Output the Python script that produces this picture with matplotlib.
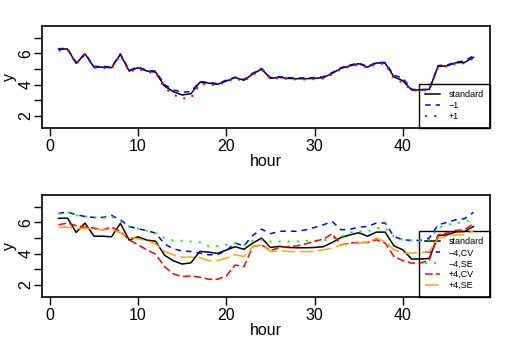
import matplotlib
matplotlib.use("Agg")
import matplotlib.pyplot as plt
import numpy as np

plt.rcParams['font.family'] = ['Liberation Sans', 'DejaVu Sans']

hours = list(range(1, 49))

standard = [6.26, 6.28, 5.36, 5.96, 5.12, 5.12, 5.08, 5.94, 4.87, 5.08,
            4.87, 4.80, 3.91, 3.55, 3.34, 3.42, 4.15, 4.10, 4.02, 4.23,
            4.45, 4.28, 4.68, 5.00, 4.40, 4.47, 4.40, 4.38, 4.38, 4.40,
            4.45, 4.72, 5.04, 5.20, 5.34, 5.12, 5.38, 5.38, 4.50, 4.25,
            3.66, 3.66, 3.70, 5.17, 5.20, 5.40, 5.42, 5.74]

minus1 = [6.30, 6.31, 5.40, 5.99, 5.16, 5.17, 5.12, 5.97, 4.92, 5.12,
          4.92, 4.86, 4.00, 3.66, 3.52, 3.55, 4.20, 4.14, 4.07, 4.28,
          4.48, 4.32, 4.73, 5.03, 4.45, 4.50, 4.45, 4.42, 4.43, 4.45,
          4.50, 4.77, 5.08, 5.25, 5.38, 5.16, 5.42, 5.42, 4.60, 4.42,
          3.70, 3.68, 3.72, 5.22, 5.25, 5.45, 5.50, 5.85]

plus1 = [6.18, 6.24, 5.32, 5.92, 5.08, 5.07, 5.03, 5.88, 4.82, 5.02,
         4.81, 4.74, 3.80, 3.36, 3.12, 3.15, 4.05, 4.00, 3.97, 4.18,
         4.40, 4.22, 4.62, 4.96, 4.36, 4.42, 4.36, 4.33, 4.33, 4.35,
         4.40, 4.66, 5.00, 5.15, 5.28, 5.07, 5.33, 5.33, 4.40, 4.12,
         3.62, 3.62, 3.66, 5.12, 5.16, 5.34, 5.36, 5.68]

m4_cv = [6.58, 6.66, 6.49, 6.38, 6.32, 6.32, 6.45, 6.17, 5.74, 5.60,
         5.47, 5.32, 4.63, 4.31, 4.18, 4.14, 4.04, 3.93, 3.95, 4.20,
         4.68, 4.50, 5.17, 5.57, 5.28, 5.43, 5.45, 5.43, 5.53, 5.68,
         5.85, 6.06, 5.53, 5.56, 5.70, 5.74, 5.96, 5.96, 5.10, 4.89,
         4.85, 4.85, 5.00, 5.85, 6.00, 6.17, 6.24, 6.64]

m4_se = [6.54, 6.66, 6.45, 6.38, 6.32, 6.28, 6.38, 6.06, 5.74, 5.60,
         5.47, 5.32, 5.00, 4.85, 4.83, 4.78, 4.74, 4.50, 4.50, 4.57,
         4.68, 4.57, 4.83, 4.90, 4.78, 4.78, 4.78, 4.78, 4.83, 4.83,
         4.85, 5.00, 5.10, 5.34, 5.43, 5.43, 5.64, 5.64, 5.10, 4.89,
         4.85, 4.85, 4.89, 5.64, 5.85, 5.96, 6.00, 6.32]

p4_cv = [5.85, 5.96, 5.79, 5.70, 5.64, 5.53, 5.70, 5.43, 4.89, 4.57,
         4.25, 3.97, 3.18, 2.71, 2.54, 2.58, 2.50, 2.37, 2.37, 2.58,
         3.28, 3.18, 4.46, 4.57, 4.20, 4.40, 4.46, 4.50, 4.63, 4.80,
         4.93, 5.28, 4.57, 4.68, 4.72, 4.72, 4.89, 4.68, 3.82, 3.56,
         3.40, 3.40, 3.60, 5.21, 5.32, 5.49, 5.53, 5.92]

p4_se = [5.68, 5.70, 5.60, 5.64, 5.57, 5.53, 5.57, 5.32, 5.04, 4.96,
         4.83, 4.63, 4.14, 3.93, 3.78, 3.78, 3.76, 3.56, 3.56, 3.72,
         3.93, 3.82, 4.46, 4.57, 4.14, 4.20, 4.14, 4.14, 4.14, 4.14,
         4.25, 4.36, 4.57, 4.63, 4.68, 4.72, 5.00, 4.78, 4.25, 4.04,
         4.04, 4.06, 4.14, 5.00, 5.10, 5.21, 5.21, 5.47]

top_labels = ["standard", "\u22121", "+1"]
bottom_labels = ["standard", "\u22124,CV", "\u22124,SE", "+4,CV", "+4,SE"]
xticks = [0, 10, 20, 30, 40]
yticks = [2, 3, 4, 5, 6, 7]
ytick_labels = ["2", "", "4", "", "6", ""]

fig = plt.figure(figsize=(5.09, 3.59), dpi=100)
ax1 = fig.add_axes([0.0825, 0.6448, 0.8802, 0.2825])
ax2 = fig.add_axes([0.0825, 0.1738, 0.8802, 0.2825])

lw = 1.1
ax1.plot(hours, standard, color='black', lw=lw, label=top_labels[0])
ax1.plot(hours, minus1, color='#0000FF', lw=lw, dashes=(3.7, 3.3), label=top_labels[1])
ax1.plot(hours, plus1, color='#FF0000', lw=1.4, dashes=(1.1, 3.6), label=top_labels[2])

ax2.plot(hours, standard, color='black', lw=lw, label=bottom_labels[0])
ax2.plot(hours, m4_cv, color='#0000FF', lw=lw, dashes=(3.7, 3.3), label=bottom_labels[1])
ax2.plot(hours, m4_se, color='#00FF00', lw=1.4, dashes=(1.1, 3.6), label=bottom_labels[2])
ax2.plot(hours, p4_cv, color='#FF0000', lw=lw, dashes=(5, 2.2), label=bottom_labels[3])
ax2.plot(hours, p4_se, color='#FFA500', lw=lw, dashes=(9, 3), label=bottom_labels[4])

for ax in (ax1, ax2):
    ax.set_xlim(-0.88, 49.88)
    ax.set_ylim(1.26, 7.74)
    ax.set_xticks(xticks)
    ax.set_yticks(yticks)
    ax.set_yticklabels(ytick_labels, rotation=90, va='center')
    ax.tick_params(axis='both', direction='out', length=5.8, width=1.0,
                   labelsize=11.5, color='black')
    ax.tick_params(axis='x', pad=2.5)
    ax.tick_params(axis='y', pad=0.5)
    for s in ax.spines.values():
        s.set_linewidth(1.2)
    ax.set_xlabel("hour", fontsize=11.5)
    ax.set_ylabel("y", fontsize=11.5)
    ax.xaxis.set_label_coords(0.5, -0.26)
    ax.yaxis.set_label_coords(-0.056, 0.5)
    leg = ax.legend(loc='lower right', bbox_to_anchor=(1.0, 0.0),
                    bbox_transform=ax.transAxes, borderaxespad=0,
                    fontsize=6.5, handlelength=1.7, handletextpad=0.9,
                    borderpad=0.7, labelspacing=0.22, fancybox=False,
                    edgecolor='black', framealpha=1)
    leg.get_frame().set_facecolor('none')
    leg.get_frame().set_linewidth(1.0)
    leg.set_zorder(1)

fig.savefig("out.png", dpi=100)
